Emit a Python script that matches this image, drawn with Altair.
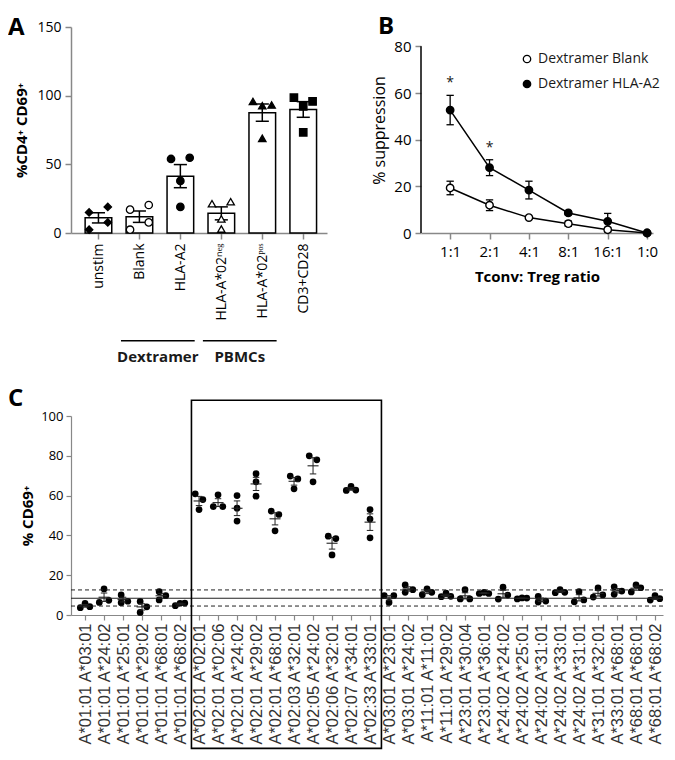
import json
import altair as alt
import pandas as pd

FONT = "Open Sans"
INK = "#1a1a1a"

# ---------------- Panel A data ----------------
a_categories = ["unstim", "Blank", "HLA-A2", "HLA-A*02ⁿᵉᵍ", "HLA-A*02ᵖᵒˢ", "CD3+CD28"]
a_values = [
    [15.0, 19.0, 7.7, 2.4],
    [17.0, 20.4, 7.7, 2.4],
    [53.9, 54.8, 37.9, 19.0],
    [21.3, 22.8, 10.2, 2.9],
    [95.8, 93.2, 92.7, 68.9],
    [98.5, 95.8, 92.2, 73.3],
]
a_jitter = [[-1, 1, 1, -1], [-1, 1, 1, -1], [-1, 1, 0, 0], [-1, 1, 0, 0], [-1, 1, 0, 0], [-1, 1, 0, 0]]
a_shapes = ["diamond", "circle", "circle", "triangle-up", "triangle-up", "square"]
a_fills = ["black", "white", "black", "white", "black", "black"]
a_groups = ["Dextramer", "PBMCs"]
a_group_start = [0.55, 2.55]
a_group_end = [2.35, 4.35]

# ---------------- Panel B data ----------------
b_ratios = ["1:1", "2:1", "4:1", "8:1", "16:1", "1:0"]
b_series = ["Dextramer Blank", "Dextramer HLA-A2"]
b_blank_mean = [19.3, 11.9, 6.6, 4.0, 1.4, 0.0]
b_blank_sem = [2.9, 2.3, 0.5, 1.1, 1.0, 0.0]
b_a2_mean = [52.7, 28.0, 18.4, 8.6, 5.0, 0.0]
b_a2_sem = [6.3, 3.4, 3.8, 0.8, 3.4, 0.0]
b_star_idx = [0, 1]
b_star_y = [64.3, 36.6]
b_axis_top = 80

# ---------------- Panel C data ----------------
c_labels = [
    "A*01:01 A*03:01", "A*01:01 A*24:02", "A*01:01 A*25:01", "A*01:01 A*29:02", "A*01:01 A*68:01", "A*01:01 A*68:02",
    "A*02:01 A*02:01", "A*02:01 A*02:06", "A*02:01 A*24:02", "A*02:01 A*29:02", "A*02:01 A*68:01", "A*02:03 A*32:01",
    "A*02:05 A*24:02", "A*02:06 A*32:01", "A*02:07 A*34:01", "A*02:33 A*33:01",
    "A*03:01 A*23:01", "A*03:01 A*24:02", "A*11:01 A*11:01", "A*11:01 A*29:02", "A*23:01 A*30:04", "A*23:01 A*36:01",
    "A*24:02 A*24:02", "A*24:02 A*25:01", "A*24:02 A*31:01", "A*24:02 A*33:01", "A*24:02 A*31:01", "A*31:01 A*32:01",
    "A*33:01 A*68:01", "A*68:01 A*68:01", "A*68:01 A*68:02",
]
c_values = [
    [3.7, 5.9, 4.2], [13.1, 6.3, 7.4], [10.1, 6.2, 6.9], [6.8, 1.3, 4.1], [11.7, 7.6, 9.7], [4.7, 5.9, 6.0],
    [60.9, 58.0, 53.0], [60.4, 54.5, 54.5], [60.0, 53.7, 47.2], [71.0, 66.9, 59.7], [52.2, 50.5, 42.3],
    [69.8, 68.4, 63.4], [80.0, 78.0, 66.9], [39.6, 38.4, 30.2], [62.6, 64.6, 62.8], [53.0, 48.2, 38.8],
    [9.7, 9.7, 6.3], [15.1, 11.4, 12.7], [13.2, 10.2, 11.4], [11.0, 9.2, 9.4], [12.7, 8.1, 8.1], [10.8, 11.4, 10.8],
    [14.0, 8.0, 10.0], [8.1, 8.6, 8.5], [9.4, 6.5, 7.0], [11.2, 12.7, 11.4], [11.7, 6.6, 7.6], [13.6, 9.0, 10.1],
    [14.2, 10.4, 12.0], [15.1, 11.6, 13.7], [9.7, 7.5, 8.2],
]
c_jitter = [
    [-1, 0, 1], [0, -1, 1], [-0.4, -0.4, 1], [-0.4, -0.4, 1], [-0.4, -0.4, 1], [-1, 0, 1],
    [-0.8, 0.8, 0], [0, -1, 1], [0, 0, 0], [0, 0, 0], [-0.8, 0.8, 0], [-0.8, 0.8, 0], [-0.8, 0.8, 0],
    [-0.8, 0.8, 0], [-1, 0, 1], [0, 0, 0],
    [-1, 1, 0], [-0.6, -0.6, 1], [0, -1, 1], [0, -1, 1], [0, -1, 1], [-1, 0, 1], [0, -1, 1], [-1, 0, 1],
    [-0.6, -0.6, 1], [-1, 0, 1], [0, -1, 1], [0, -1, 1], [-0.6, -0.6, 1], [0, -1, 1], [0, -1, 1],
]
c_ref_values = [4.5, 8.4, 12.6]
c_ref_style = ["dashed", "solid", "dashed"]
c_box_x = [5.6, 15.6]
c_box_y = [-67.0, 107.9]


def lab_expr(labels):
    return json.dumps(labels) + "[datum.value]"


NOVIEW = alt.ViewBackground(stroke="transparent", strokeWidth=0)

# ======================= Panel A =======================
rows_a = []
for i, (vals, jits) in enumerate(zip(a_values, a_jitter)):
    for v, j in zip(vals, jits):
        rows_a.append({"idx": i, "value": v, "jit": j, "shape": a_shapes[i], "fill": a_fills[i]})
df_a = pd.DataFrame(rows_a)

xa = alt.Scale(domain=[-0.67, 5.58], nice=False, zero=False)
ya = alt.Scale(domain=[0, 150], nice=False)
x_axis_a = alt.Axis(values=list(range(len(a_categories))), labelExpr=lab_expr(a_categories), labelAngle=-90,
                    labelFontSize=14, labelPadding=4, tickSize=6, title=None, grid=False,
                    labelOverlap=False, labelFlush=False, domainWidth=1.5, tickWidth=1.5)
y_axis_a = alt.Axis(values=[0, 50, 100, 150], labelFontSize=14, tickSize=6, labelPadding=4,
                    title="%CD4⁺ CD69⁺", titleFontSize=15, titleFontWeight="bold", titlePadding=7,
                    grid=False, labelOverlap=False, labelFlush=False, domainWidth=1.5, tickWidth=1.5)

base_a = alt.Chart(df_a)
agg_a = base_a.transform_aggregate(
    mean="mean(value)", se="stderr(value)", groupby=["idx"]
).transform_calculate(
    bx1="datum.idx - 0.325", bx2="datum.idx + 0.325",
    lo="datum.mean - datum.se", hi="datum.mean + datum.se",
    cx1="datum.idx - 0.16", cx2="datum.idx + 0.16",
)
bars_a = agg_a.mark_bar(fill="white", stroke="black", strokeWidth=1.5).encode(
    x=alt.X("bx1:Q", scale=xa, axis=x_axis_a), x2="bx2:Q",
    y=alt.Y("mean:Q", scale=ya, axis=y_axis_a), y2=alt.datum(0),
)
err_a = agg_a.mark_rule(color="black", strokeWidth=1.5).encode(
    x=alt.X("idx:Q", axis=x_axis_a), y=alt.Y("lo:Q", axis=y_axis_a), y2="hi:Q")
caphi_a = agg_a.mark_rule(color="black", strokeWidth=1.5).encode(
    x=alt.X("cx1:Q", axis=x_axis_a), x2="cx2:Q", y=alt.Y("hi:Q", axis=y_axis_a))
caplo_a = agg_a.mark_rule(color="black", strokeWidth=1.5).encode(
    x=alt.X("cx1:Q", axis=x_axis_a), x2="cx2:Q", y=alt.Y("lo:Q", axis=y_axis_a))
pts_a = base_a.transform_calculate(xp="datum.idx + 0.228 * datum.jit").mark_point(
    filled=True, size=55, stroke="black", strokeWidth=1.3, opacity=1
).encode(
    x=alt.X("xp:Q", axis=x_axis_a), y=alt.Y("value:Q", axis=y_axis_a),
    shape=alt.Shape("shape:N", scale=None),
    fill=alt.Fill("fill:N", scale=None),
)
df_groups = pd.DataFrame({"name": a_groups, "x1": a_group_start, "x2": a_group_end})
grp_line = alt.Chart(df_groups).mark_rule(color="black", strokeWidth=1.5).encode(
    x=alt.X("x1:Q", axis=x_axis_a), x2="x2:Q", y=alt.datum(-78.4))
grp_text = alt.Chart(df_groups).transform_calculate(xm="(datum.x1 + datum.x2) / 2").mark_text(
    fontWeight="bold", fontSize=15, baseline="middle", font=FONT, color=INK
).encode(x=alt.X("xm:Q", axis=x_axis_a), y=alt.datum(-90), text="name:N")

chart_a = alt.layer(bars_a, err_a, caphi_a, caplo_a, pts_a, grp_line, grp_text).properties(
    width=256, height=206, view=NOVIEW,
    title=alt.TitleParams("A", anchor="start", frame="group", dx=-63, dy=24, fontSize=24, fontWeight="bold",
                          font=FONT, color="black", offset=4),
)

# ======================= Panel B =======================
rows_b = []
for s, means, sems in zip(b_series, [b_blank_mean, b_a2_mean], [b_blank_sem, b_a2_sem]):
    for i, (m, e) in enumerate(zip(means, sems)):
        rows_b.append({"idx": i, "series": s, "mean": m, "sem": e})
df_b = pd.DataFrame(rows_b)

xb = alt.Scale(domain=[-0.74, 5.15], nice=False, zero=False)
yb = alt.Scale(domain=[0, 88.3], nice=False)
x_axis_b = alt.Axis(values=list(range(len(b_ratios))), labelExpr=lab_expr(b_ratios), labelAngle=0,
                    labelFontSize=15, labelPadding=5, tickSize=6, title="Tconv: Treg ratio",
                    titleFontSize=15, titleFontWeight="bold", titlePadding=10, grid=False,
                    labelOverlap=False, labelFlush=False, domainWidth=1.5, tickWidth=1.5)
y_axis_b = alt.Axis(values=[0, 20, 40, 60, 80], domain=False, labelFontSize=15, tickSize=6, labelPadding=4,
                    title="% suppression", titleFontSize=16, titleFontWeight="normal", titlePadding=6,
                    grid=False, labelOverlap=False, labelFlush=False, tickWidth=1.5)

base_b = alt.Chart(df_b).transform_calculate(
    lo="datum.mean - datum.sem", hi="datum.mean + datum.sem",
    cx1="datum.idx - 0.093", cx2="datum.idx + 0.093",
)
lines_b = base_b.mark_line(color="black", strokeWidth=1.5).encode(
    x=alt.X("idx:Q", scale=xb, axis=x_axis_b),
    y=alt.Y("mean:Q", scale=yb, axis=y_axis_b),
    detail="series:N",
)
errb = base_b.transform_filter("datum.sem > 0")
err_b = errb.mark_rule(color="black", strokeWidth=1.3).encode(
    x=alt.X("idx:Q", axis=x_axis_b), y=alt.Y("lo:Q", axis=y_axis_b), y2="hi:Q")
caphi_b = errb.mark_rule(color="black", strokeWidth=1.3).encode(
    x=alt.X("cx1:Q", axis=x_axis_b), x2="cx2:Q", y=alt.Y("hi:Q", axis=y_axis_b))
caplo_b = errb.mark_rule(color="black", strokeWidth=1.3).encode(
    x=alt.X("cx1:Q", axis=x_axis_b), x2="cx2:Q", y=alt.Y("lo:Q", axis=y_axis_b))
pts_b = base_b.mark_point(filled=True, size=55, stroke="black", strokeWidth=1.4, opacity=1).encode(
    x=alt.X("idx:Q", axis=x_axis_b), y=alt.Y("mean:Q", axis=y_axis_b),
    fill=alt.Fill("series:N", scale=alt.Scale(domain=b_series, range=["white", "black"]),
                  legend=alt.Legend(title=None, orient="none", legendX=449, legendY=25, labelFontSize=14,
                                    labelFont=FONT, labelColor=INK, symbolSize=55, symbolType="circle",
                                    symbolStrokeColor="black", symbolStrokeWidth=1.3, rowPadding=11,
                                    labelOffset=4, padding=0)),
)
df_star = pd.DataFrame({"idx": b_star_idx, "y": b_star_y})
stars_b = alt.Chart(df_star).mark_text(text="*", fontSize=14, font=FONT, color=INK, baseline="middle").encode(
    x=alt.X("idx:Q", axis=x_axis_b), y=alt.Y("y:Q", axis=y_axis_b))
df_yline = pd.DataFrame({"lo": [0], "hi": [b_axis_top]})
yline_b = alt.Chart(df_yline).mark_rule(color="black", strokeWidth=1.5).encode(
    x=alt.value(0), y=alt.Y("lo:Q", axis=y_axis_b), y2="hi:Q")

chart_b = alt.layer(lines_b, err_b, caphi_b, caplo_b, pts_b, stars_b, yline_b).properties(
    width=232, height=206, view=NOVIEW,
    title=alt.TitleParams("B", anchor="start", frame="group", dx=-43, dy=16, fontSize=24, fontWeight="bold",
                          font=FONT, color="black", offset=4),
)

# ======================= Panel C =======================
rows_c = []
for i, (vals, jits) in enumerate(zip(c_values, c_jitter)):
    for v, j in zip(vals, jits):
        rows_c.append({"idx": i, "value": v, "jit": j})
df_c = pd.DataFrame(rows_c)

xc = alt.Scale(domain=[-0.74, 30.42], nice=False, zero=False)
yc = alt.Scale(domain=[0, 100], nice=False)
x_axis_c = alt.Axis(values=list(range(len(c_labels))), labelExpr=lab_expr(c_labels), labelAngle=-90,
                    labelFont="Liberation Sans", labelFontSize=16.5, labelColor="#333", labelPadding=3,
                    tickSize=5, title=None, grid=False, labelOverlap=False, labelFlush=False,
                    labelBound=False, domainWidth=1.2, tickWidth=1.2)
y_axis_c = alt.Axis(values=[0, 20, 40, 60, 80, 100], labelFontSize=13, tickSize=5, labelPadding=3,
                    title="% CD69⁺", titleFontSize=15, titleFontWeight="bold", titlePadding=5,
                    grid=False, labelOverlap=False, labelFlush=False, labelBound=False,
                    domainWidth=1.2, tickWidth=1.2)

base_c = alt.Chart(df_c)
pts_c = base_c.transform_calculate(xp="datum.idx + 0.25 * datum.jit").mark_circle(
    size=45, color="black", opacity=1).encode(
    x=alt.X("xp:Q", scale=xc, axis=x_axis_c), y=alt.Y("value:Q", scale=yc, axis=y_axis_c))

df_ref = pd.DataFrame({"y": c_ref_values, "style": c_ref_style})
ref_solid = alt.Chart(df_ref).transform_filter("datum.style == 'solid'").mark_rule(
    color="#222", strokeWidth=1.1).encode(y=alt.Y("y:Q", axis=y_axis_c))
ref_dash = alt.Chart(df_ref).transform_filter("datum.style == 'dashed'").mark_rule(
    color="#222", strokeWidth=1.0, strokeDash=[4, 3]).encode(y=alt.Y("y:Q", axis=y_axis_c))

agg_c = base_c.transform_aggregate(
    mean="mean(value)", se="stderr(value)", groupby=["idx"]
).transform_calculate(
    lo="datum.mean - datum.se", hi="datum.mean + datum.se",
    mx1="datum.idx - 0.29", mx2="datum.idx + 0.29",
    cx1="datum.idx - 0.17", cx2="datum.idx + 0.17",
)
mean_c = agg_c.mark_rule(color="#222", strokeWidth=1.1).encode(
    x=alt.X("mx1:Q", axis=x_axis_c), x2="mx2:Q", y=alt.Y("mean:Q", axis=y_axis_c))
err_c = agg_c.mark_rule(color="#222", strokeWidth=1.0).encode(
    x=alt.X("idx:Q", axis=x_axis_c), y=alt.Y("lo:Q", axis=y_axis_c), y2="hi:Q")
caphi_c = agg_c.mark_rule(color="#222", strokeWidth=1.0).encode(
    x=alt.X("cx1:Q", axis=x_axis_c), x2="cx2:Q", y=alt.Y("hi:Q", axis=y_axis_c))
caplo_c = agg_c.mark_rule(color="#222", strokeWidth=1.0).encode(
    x=alt.X("cx1:Q", axis=x_axis_c), x2="cx2:Q", y=alt.Y("lo:Q", axis=y_axis_c))
df_box = pd.DataFrame({"x1": [c_box_x[0]], "x2": [c_box_x[1]], "y1": [c_box_y[0]], "y2": [c_box_y[1]]})
box_c = alt.Chart(df_box).mark_rect(fillOpacity=0, stroke="black", strokeWidth=1.6).encode(
    x=alt.X("x1:Q", axis=x_axis_c), x2="x2:Q", y=alt.Y("y1:Q", axis=y_axis_c), y2="y2:Q")

chart_c = alt.layer(pts_c, ref_solid, ref_dash, mean_c, err_c, caphi_c, caplo_c, box_c).properties(
    width=592, height=199, view=NOVIEW,
    title=alt.TitleParams("C", anchor="start", frame="group", dx=-63, dy=16, fontSize=24, fontWeight="bold",
                          font=FONT, color="black", offset=4),
)

top = alt.hconcat(chart_a, chart_b, spacing=94, bounds="flush")
chart = alt.vconcat(top, chart_c, spacing=389, bounds="flush").properties(
    padding={"left": 0, "top": 7, "right": 0, "bottom": 0}
).configure_view(stroke="transparent", strokeWidth=0).configure_axis(
    domainColor="black", tickColor="black", labelColor=INK, titleColor=INK,
    labelFont=FONT, titleFont=FONT, labelOverlap=False, labelFlush=False, grid=False,
).configure(font=FONT, background="white")

chart.save("out.html", embed_options={"renderer": "svg", "actions": False})
